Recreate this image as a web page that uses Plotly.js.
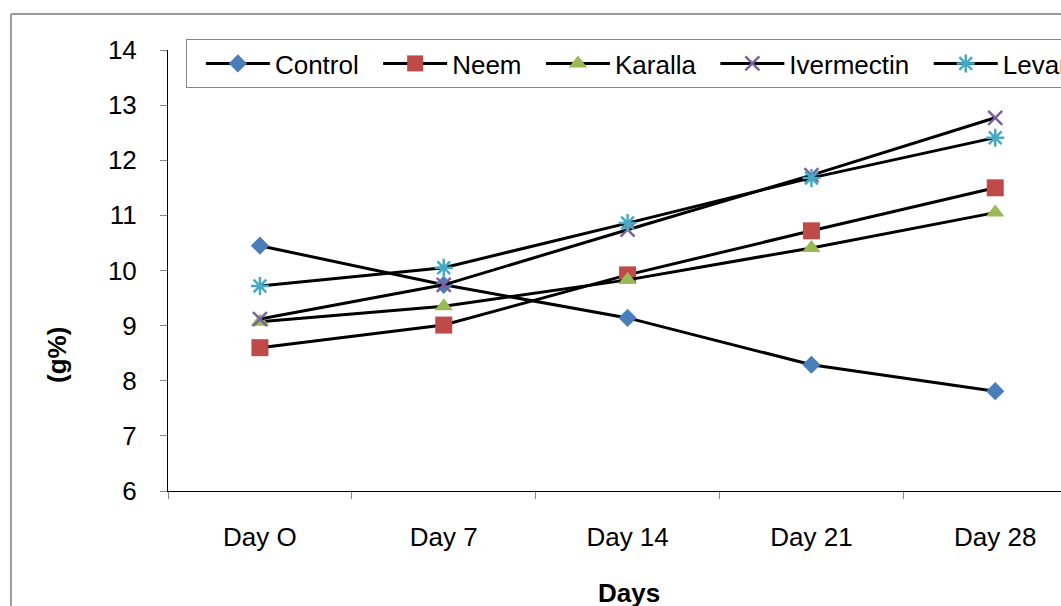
<!DOCTYPE html>
<html>
<head>
<meta charset="utf-8">
<script src="https://cdn.plot.ly/plotly-3.0.1.min.js"></script>
<style>
html, body { margin: 0; padding: 0; overflow: hidden; background: #fff; }
#chart { width: 1600px; height: 606px; }
</style>
</head>
<body>
<div id="chart"></div>
<script>
const days = ["Day O", "Day 7", "Day 14", "Day 21", "Day 28"];
const seriesNames = ["Control", "Neem", "Karalla", "Ivermectin", "Levamisole"];
const control    = [10.45, 9.74, 9.14, 8.29, 7.81];
const neem       = [8.60, 9.01, 9.92, 10.72, 11.50];
const karalla    = [9.07, 9.35, 9.83, 10.41, 11.05];
const ivermectin = [9.12, 9.74, 10.74, 11.73, 12.77];
const levamisole = [9.72, 10.05, 10.86, 11.68, 12.41];
const yTicks = [6, 7, 8, 9, 10, 11, 12, 13, 14];

const values = [control, neem, karalla, ivermectin, levamisole];
const colors = ["#4A7EBB", "#BE4B48", "#98B954", "#7D60A0", "#46AAC5"];
const symbols = ["diamond", "square", "triangle-up", "x-thin-open", "asterisk-open"];
const sizes = [14, 17, 16, 14, 15];
const NB = "\u00a0";

const traces = values.map((v, i) => {
  const open = symbols[i].indexOf("open") >= 0;
  return {
    type: "scatter",
    mode: "lines+markers",
    name: seriesNames[i] + NB + NB,
    x: days,
    y: v,
    line: { color: "#000000", width: 3 },
    marker: {
      symbol: symbols[i],
      size: sizes[i],
      color: colors[i],
      line: open ? { color: colors[i], width: 2.5 } : { width: 0 }
    }
  };
});

// plot area is wider than the window; the window crops it like the reference
const CAT = 183.8;
const W = 1600, L = 168, PW = 6 * CAT, T = 50, PH = 441, H = 606;
const px = x => (x - L) / PW;
const py = y => (T + PH - y) / PH;

const layout = {
  width: W,
  height: H,
  margin: { l: L, r: W - L - PW, t: T, b: H - T - PH, pad: 0 },
  paper_bgcolor: "#ffffff",
  plot_bgcolor: "#ffffff",
  font: { family: "Liberation Sans, Arial, sans-serif", color: "#000000", size: 26 },
  showlegend: true,
  legend: {
    orientation: "h",
    x: px(186), y: py(39),
    xanchor: "left", yanchor: "top",
    bgcolor: "#ffffff",
    bordercolor: "#868686",
    borderwidth: 1,
    itemwidth: 64,
    title: { text: NB, side: "left", font: { size: 14 } },
    font: { family: "Liberation Sans, Arial, sans-serif", size: 26, color: "#000000" }
  },
  xaxis: {
    type: "category",
    range: [-0.5, 5.5],
    tickson: "boundaries",
    ticks: "outside",
    ticklen: 7,
    tickcolor: "#868686",
    tickwidth: 1,
    showline: true,
    linecolor: "#000000",
    linewidth: 1,
    showgrid: false,
    zeroline: false,
    ticklabelstandoff: 23,
    tickfont: { size: 26, color: "#000000" },
    fixedrange: true
  },
  yaxis: {
    range: [6, 14],
    tickvals: yTicks,
    ticktext: yTicks.map(String),
    ticks: "outside",
    ticklen: 7,
    tickcolor: "#868686",
    tickwidth: 1,
    showline: true,
    linecolor: "#000000",
    linewidth: 1,
    showgrid: false,
    zeroline: false,
    ticklabelstandoff: 18,
    tickfont: { size: 26, color: "#000000" },
    fixedrange: true
  },
  annotations: [
    {
      text: "<b>(g%)</b>", textangle: -90,
      xref: "paper", yref: "paper",
      x: px(57), y: py(355), xanchor: "center", yanchor: "middle",
      showarrow: false, font: { size: 26, color: "#000000" }
    },
    {
      text: "<b>Days</b>",
      xref: "paper", yref: "paper",
      x: px(629), y: py(593), xanchor: "center", yanchor: "middle",
      showarrow: false, font: { size: 26, color: "#000000" }
    }
  ],
  shapes: [
    { type: "line", xref: "paper", yref: "paper", x0: px(11), x1: px(11), y0: py(14), y1: py(620),
      line: { color: "#9a9a9a", width: 2 } },
    { type: "line", xref: "paper", yref: "paper", x0: px(11), x1: px(1600), y0: py(14), y1: py(14),
      line: { color: "#9a9a9a", width: 2 } }
  ]
};

Plotly.newPlot("chart", traces, layout, { displayModeBar: false, staticPlot: true });
</script>
</body>
</html>
